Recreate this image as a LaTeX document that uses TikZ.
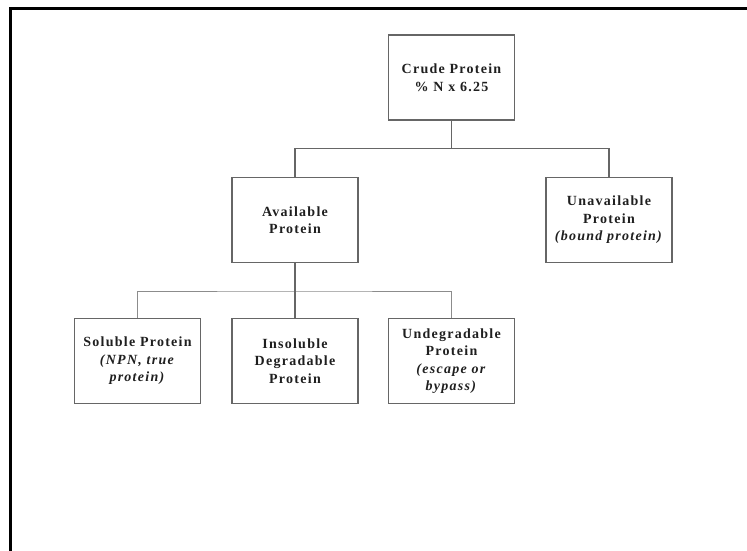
\documentclass[tikz,border=0pt]{standalone}
\usepackage{fontspec}
\newfontfamily\boxfont[LetterSpace=9]{Liberation Serif}
\begin{document}
\begin{tikzpicture}[x=1pt,y=-1pt,
  box/.style={draw=black!60, line width=1.3pt, minimum width=126pt, minimum height=85pt,
    align=center, text=black!88, font=\boxfont\bfseries\fontsize{14}{17.5}\selectfont, inner sep=2pt},
  conn/.style={draw=black!60, line width=1.3pt},
  thinconn/.style={draw=black!45, line width=1pt},
  frame/.style={draw=black, line width=3pt}]
\useasboundingbox (0,0) rectangle (747,550);
\draw[frame] (10,551) -- (10,8) -- (748,8);
\node[box] (crude) at (451.5,77.5) {Crude Protein\\\% N x 6.25};
\node[box] (avail) at (295,220) {Available\\Protein};
\node[box] (unavail) at (609,220) {Unavailable\\Protein\\\textit{(bound protein)}};
\node[box] (sol) at (137.5,361) {Soluble Protein\\\textit{(NPN, true}\\\textit{protein)}};
\node[box] (insol) at (295,361) {Insoluble\\Degradable\\Protein};
\node[box] (undeg) at (451.5,361) {Undegradable\\Protein\\\textit{(escape or}\\\textit{bypass)}};
\coordinate (j1) at (451.5,148.5);
\coordinate (j2) at (295,291);
\draw[conn] (crude.south) -- (j1);
\draw[conn] (avail.north) |- (j1) -| (unavail.north);
\draw[conn] (avail.south) -- (j2);
\draw[thinconn] (sol.north) |- (j2) -| (undeg.north);
\draw[conn] (j2) -- (insol.north);
\end{tikzpicture}
\end{document}
